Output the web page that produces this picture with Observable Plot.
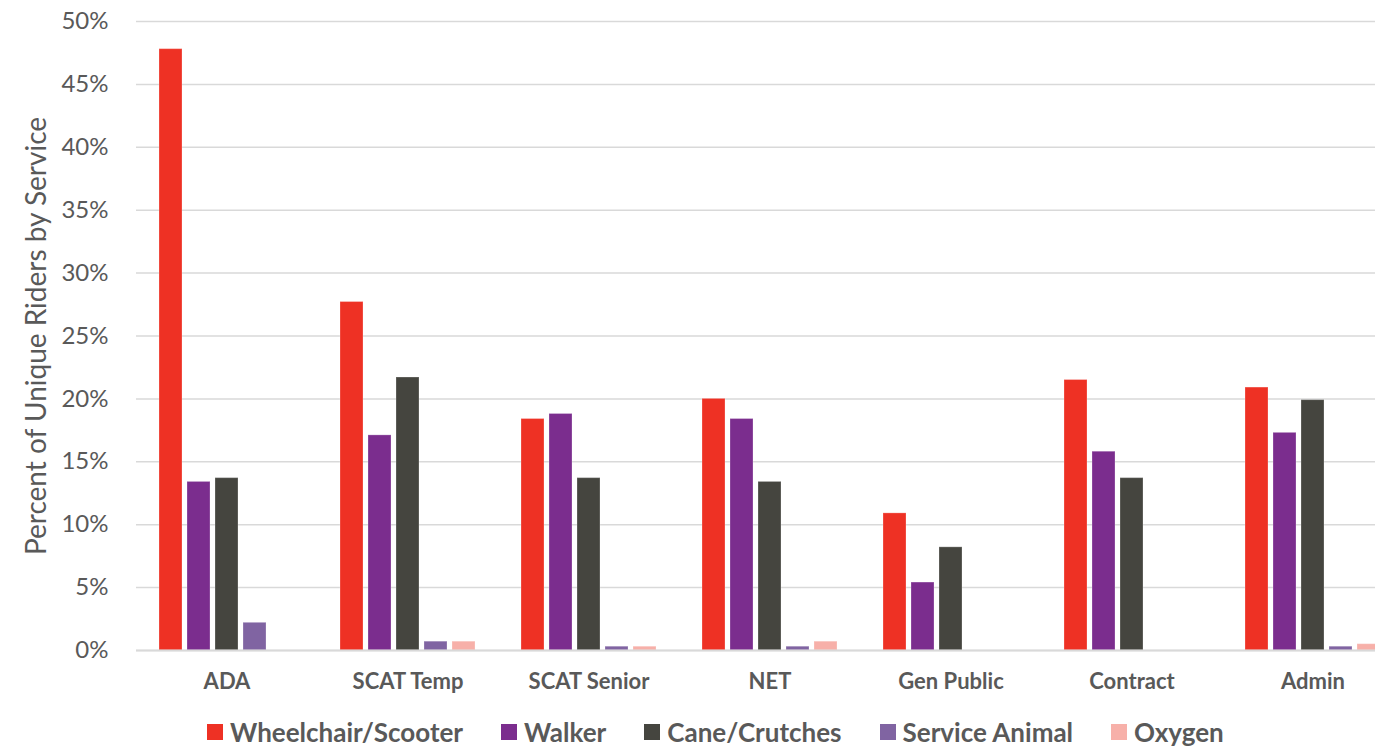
<!DOCTYPE html>
<html>
<head>
<meta charset="utf-8">
<script src="https://cdn.jsdelivr.net/npm/d3@7"></script>
<script src="https://cdn.jsdelivr.net/npm/@observablehq/plot@0.6"></script>
<style>
  html, body { margin: 0; padding: 0; background: #fff; overflow: hidden; }
  #wrap { width: 1375px; overflow: hidden; }
  #chart { height: 705px; }
  #chart svg { max-width: none !important; height: 705px !important; display: block; }
  #legend { display: flex; align-items: center; margin-left: 207px; margin-top: 12px; height: 30px;
            font-family: Lato, "Open Sans", sans-serif; font-weight: bold; font-size: 26px; color: #595959; white-space: nowrap; }
  #legend .item { display: flex; align-items: center; margin-right: 38px; }
  #legend .sw { width: 16px; height: 16px; margin-right: 7px; }
</style>
</head>
<body>
<div id="wrap"><div id="chart"></div><div id="legend"></div></div>
<script>
const services = ["ADA", "SCAT Temp", "SCAT Senior", "NET", "Gen Public", "Contract", "Admin"];
const series = ["Wheelchair/Scooter", "Walker", "Cane/Crutches", "Service Animal", "Oxygen"];
const wheelchair = [47.8, 27.7, 18.4, 20.0, 10.9, 21.5, 20.9];
const walker = [13.4, 17.1, 18.8, 18.4, 5.4, 15.8, 17.3];
const cane = [13.7, 21.7, 13.7, 13.4, 8.2, 13.7, 19.9];
const serviceAnimal = [2.2, 0.7, 0.3, 0.3, 0, 0, 0.3];
const oxygen = [0, 0.7, 0.3, 0.7, 0, 0, 0.5];
const colors = ["#EE3124", "#7B2D8E", "#45453F", "#8064A2", "#F7B0A9"];
const yTicks = [0, 5, 10, 15, 20, 25, 30, 35, 40, 45, 50];
const yTitle = "Percent of Unique Riders by Service";

const seriesValues = [wheelchair, walker, cane, serviceAnimal, oxygen];
const data = [];
services.forEach((s, i) => series.forEach((k, j) => data.push({service: s, series: k, value: seriesValues[j][i]})));

const textColor = "#595959";
const chart = Plot.plot({
  width: 1403,
  height: 705,
  marginLeft: 136,
  marginRight: 0,
  marginTop: 21,
  marginBottom: 55,
  style: {fontFamily: "Lato, 'Open Sans', sans-serif", color: textColor, background: "#fff"},
  fx: {domain: services, padding: 0, label: null},
  x: {domain: series, paddingInner: 0.18, paddingOuter: 0.82, axis: null},
  y: {domain: [0, 50], label: null},
  color: {domain: series, range: colors},
  marks: [
    Plot.gridY(yTicks, {stroke: "#d9d9d9", strokeOpacity: 1, strokeWidth: 1.5}),
    Plot.barY(data, {fx: "service", x: "series", y: "value", fill: "series", stroke: "#ffffff", strokeOpacity: 0.25, strokeWidth: 1}),
    Plot.ruleY([0], {stroke: "#d9d9d9", strokeWidth: 2}),
    Plot.axisY(yTicks, {tickSize: 0, tickPadding: 28, tickFormat: d => d + "%", fontSize: 24, fill: textColor, label: null}),
    Plot.text([yTitle], {frameAnchor: "left", textAnchor: "middle", rotate: -90, dx: -99, facet: "super", fontSize: 28, fill: textColor}),
    Plot.axisFx({anchor: "bottom", tickSize: 0, tickPadding: 23, fontSize: 22, fontWeight: "bold", fill: textColor, label: null})
  ]
});
document.getElementById("chart").appendChild(chart);

const legend = document.getElementById("legend");
series.forEach((s, i) => {
  const item = document.createElement("div");
  item.className = "item";
  const sw = document.createElement("div");
  sw.className = "sw";
  sw.style.background = colors[i];
  const tx = document.createElement("span");
  tx.textContent = s;
  item.appendChild(sw);
  item.appendChild(tx);
  legend.appendChild(item);
});
</script>
</body>
</html>
